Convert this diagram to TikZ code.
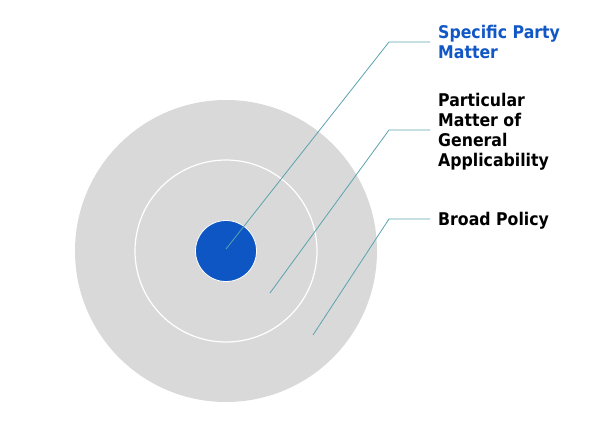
\documentclass[tikz,border=0pt]{standalone}
\usepackage{fontspec}
\setmainfont{DejaVu Sans Condensed}
\definecolor{ringgray}{HTML}{D9D9D9}
\definecolor{coreblue}{HTML}{0E56C4}
\definecolor{textblue}{HTML}{1257C6}
\definecolor{leader}{HTML}{5AA3AD}
\begin{document}
\begin{tikzpicture}[x=1pt,y=-1pt,
  leaderline/.style={draw=leader,line width=0.8pt},
  label/.style={anchor=base west,inner sep=0pt,align=left,
    font=\fontsize{17.5}{20}\selectfont\bfseries}]
\useasboundingbox (0,0) rectangle (593,429);
\node[circle,fill=ringgray,minimum size=302pt,inner sep=0pt] (outer) at (226,251) {};
\node[circle,draw=white,line width=1.2pt,minimum size=182pt,inner sep=0pt] (middle) at (226,251) {};
\node[circle,fill=coreblue,draw=white,line width=0.8pt,minimum size=61pt,inner sep=0pt] (core) at (226,251) {};
\node[label,text=textblue] (spm) at (438,58.5) {Specific Party\\Matter};
\node[label] (pmga) at (438,166) {Particular\\Matter of\\General\\Applicability};
\node[label] (bp) at (438,225) {Broad Policy};
\coordinate (s1) at (226,249);
\coordinate (k1) at (389,42);
\coordinate (e1) at (430,42);
\coordinate (s2) at (270,293);
\coordinate (k2) at (389,130);
\coordinate (e2) at (430,130);
\coordinate (s3) at (313,335);
\coordinate (k3) at (389,219);
\coordinate (e3) at (430,219);
\draw[leaderline] (s1) -- (k1) -- (e1);
\draw[leaderline] (s2) -- (k2) -- (e2);
\draw[leaderline] (s3) -- (k3) -- (e3);
\end{tikzpicture}
\end{document}
